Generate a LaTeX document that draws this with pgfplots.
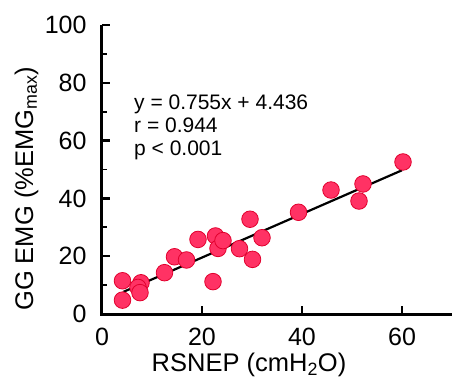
\documentclass[border=0pt]{standalone}
\usepackage{fontspec}
\setmainfont{Liberation Sans}
\usepackage{pgfplots}
\pgfplotsset{compat=1.18}
\definecolor{dotfill}{RGB}{255,50,100}
\definecolor{dotedge}{RGB}{225,0,45}
\begin{document}
\begin{tikzpicture}
\begin{axis}[
  scale only axis, width=350pt, height=289pt,
  at={(0,0)}, anchor=south west,
  xmin=0, xmax=70, ymin=0, ymax=100,
  axis line style={draw=none},
  xtick pos=bottom, ytick pos=left,
  xtick={0,20,40,60}, ytick={0,20,40,60,80,100},
  minor ytick={10,30,50,70,90},
  tick align=inside,
  major tick length=8.5pt, minor tick length=5pt,
  major tick style={draw=black, line width=2.4pt},
  minor tick style={draw=black, line width=1.8pt},
  /pgf/number format/assume math mode=true,
  tick label style={font=\fontsize{25}{30}\selectfont},
  yticklabel style={xshift=-12pt},
  xticklabel style={yshift=-11pt},
  xlabel={RSNEP (cmH\textsubscript{2}O)},
  ylabel={GG EMG (\%EMG\textsubscript{max})},
  label style={font=\fontsize{25.5}{30}\selectfont},
  xlabel style={at={(axis description cs:0.42,-0.2)}, anchor=base},
  ylabel style={at={(axis description cs:-0.197,0.433)}, anchor=base},
  clip=false,
]
\draw[black, line width=3pt] (axis cs:0,100) -- (axis cs:0,0) -- (axis cs:70,0);
\addplot[only marks, mark=*, mark size=8.3pt,
  mark options={fill=dotfill, draw=dotedge, line width=0.8pt}]
coordinates {
(4.1,11.5)(4.1,4.8)(7.8,10.8)(7.2,9.2)(7.6,7.4)(12.5,14.3)(14.5,19.8)
(16.9,18.7)(19.2,25.8)(22.2,11.2)(22.7,27.0)(23.2,22.7)(24.2,25.4)
(27.5,22.6)(30.1,18.9)(29.6,32.8)(32.0,26.4)(39.3,35.2)(45.8,42.9)
(51.4,39.1)(52.2,45.0)(60.2,52.6)
};
\addplot[black, line width=2.2pt] coordinates {(4.3,7.68)(60,49.736)};
\node[anchor=base west, inner sep=0pt, font=\fontsize{21}{23}\selectfont] at (axis cs:6.4,70.9) {y = 0.755x + 4.436};
\node[anchor=base west, inner sep=0pt, font=\fontsize{21}{23}\selectfont] at (axis cs:6.4,62.9) {r = 0.944};
\node[anchor=base west, inner sep=0pt, font=\fontsize{21}{23}\selectfont] at (axis cs:6.4,55.0) {p < 0.001};
\end{axis}
\pgfresetboundingbox
\path (-102pt,-70pt) rectangle (350pt,314pt);
\end{tikzpicture}
\end{document}
